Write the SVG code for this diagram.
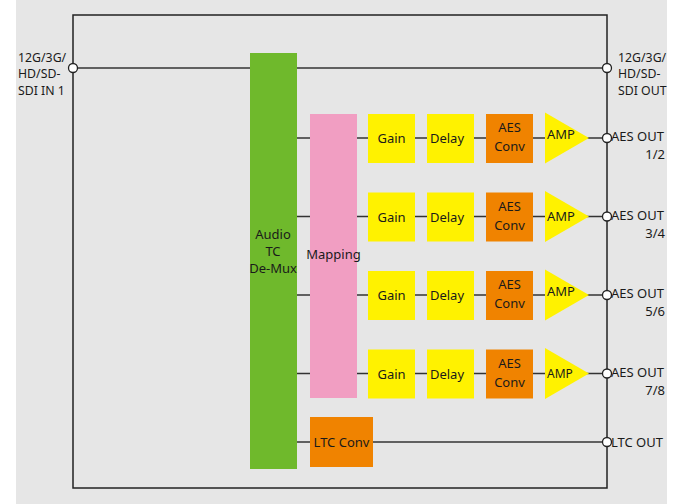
<svg xmlns="http://www.w3.org/2000/svg" width="683" height="504" viewBox="0 0 683 504">
<style>
text{font-family:"Noto Sans","Open Sans","Liberation Sans",sans-serif;font-size:13px;fill:#1a1a1a}
.c{text-anchor:middle}
.e{text-anchor:end}
.s{font-size:12.3px}
.ln{stroke:#333;stroke-width:1.4;fill:none}
.port{fill:#fff;stroke:#222;stroke-width:1.3}
.y{fill:#fff200}
.o{fill:#f08300}
</style>
<rect x="0" y="0" width="683" height="504" fill="#fff"/>
<rect x="16" y="0" width="651" height="504" fill="#e6e6e6"/>
<rect id="frame" x="73" y="15" width="534" height="473" fill="none" stroke="#222" stroke-width="1.5"/>
<g id="connectors">
<line class="ln" x1="73" y1="68" x2="607" y2="68"/>
<line class="ln" x1="297" y1="138" x2="607" y2="138"/>
<line class="ln" x1="297" y1="216.5" x2="607" y2="216.5"/>
<line class="ln" x1="297" y1="295" x2="607" y2="295"/>
<line class="ln" x1="297" y1="373.5" x2="607" y2="373.5"/>
<line class="ln" x1="297" y1="442" x2="607" y2="442"/>
</g>
<g id="demux"><rect x="250" y="53" width="47" height="416" fill="#6fb92c"/>
<text class="c" x="273" y="239">Audio</text><text class="c" x="273" y="256">TC</text><text class="c" x="273" y="273">De-Mux</text></g>
<g id="mapping"><rect x="310" y="114" width="47" height="284" fill="#f19ec2"/><text class="c" x="333.5" y="259">Mapping</text></g>
<g id="row1">
<g id="gain1"><rect class="y" x="368" y="114" width="47" height="49"/><text class="c" x="391.5" y="143">Gain</text></g>
<g id="delay1"><rect class="y" x="427" y="114" width="47" height="49"/><text class="c" x="447" y="143">Delay</text></g>
<g id="aes1"><rect class="o" x="486" y="114" width="47" height="49"/><text class="c" x="509.5" y="132">AES</text><text class="c" x="509.5" y="151">Conv</text></g>
<g id="amp1"><polygon class="y" points="545,112.5 589,138 545,163.5"/><text x="547" y="139">AMP</text></g>
</g>
<g id="row2">
<g id="gain2"><rect class="y" x="368" y="192.5" width="47" height="49"/><text class="c" x="391.5" y="221.5">Gain</text></g>
<g id="delay2"><rect class="y" x="427" y="192.5" width="47" height="49"/><text class="c" x="447" y="221.5">Delay</text></g>
<g id="aes2"><rect class="o" x="486" y="192.5" width="47" height="49"/><text class="c" x="509.5" y="210.5">AES</text><text class="c" x="509.5" y="229.5">Conv</text></g>
<g id="amp2"><polygon class="y" points="545,191 589,216.5 545,242"/><text x="547" y="221">AMP</text></g>
</g>
<g id="row3">
<g id="gain3"><rect class="y" x="368" y="271" width="47" height="49"/><text class="c" x="391.5" y="300">Gain</text></g>
<g id="delay3"><rect class="y" x="427" y="271" width="47" height="49"/><text class="c" x="447" y="300">Delay</text></g>
<g id="aes3"><rect class="o" x="486" y="271" width="47" height="49"/><text class="c" x="509.5" y="289">AES</text><text class="c" x="509.5" y="308">Conv</text></g>
<g id="amp3"><polygon class="y" points="545,269.5 589,295 545,320.5"/><text x="547" y="296">AMP</text></g>
</g>
<g id="row4">
<g id="gain4"><rect class="y" x="368" y="349.5" width="47" height="49"/><text class="c" x="391.5" y="378.5">Gain</text></g>
<g id="delay4"><rect class="y" x="427" y="349.5" width="47" height="49"/><text class="c" x="447" y="378.5">Delay</text></g>
<g id="aes4"><rect class="o" x="486" y="349.5" width="47" height="49"/><text class="c" x="509.5" y="367.5">AES</text><text class="c" x="509.5" y="386.5">Conv</text></g>
<g id="amp4"><polygon class="y" points="545,348 589,373.5 545,399"/><text x="547" y="378" style="font-size:12px">AMP</text></g>
</g>
<g id="ltcconv"><rect class="o" x="310" y="417" width="63" height="50"/><text class="c" x="341.5" y="446.5">LTC Conv</text></g>
<g id="ports">
<circle class="port" cx="73" cy="68" r="4.5"/>
<circle class="port" cx="607" cy="68" r="4.5"/>
<circle class="port" cx="607" cy="138" r="4.5"/>
<circle class="port" cx="607" cy="216.5" r="4.5"/>
<circle class="port" cx="607" cy="295" r="4.5"/>
<circle class="port" cx="607" cy="373.5" r="4.5"/>
<circle class="port" cx="607" cy="442" r="4.5"/>
</g>
<g id="sdi-in"><text class="s" x="18" y="61.5">12G/3G/</text><text class="s" x="18" y="78">HD/SD-</text><text class="s" x="18" y="94.5">SDI IN 1</text></g>
<g id="sdi-out"><text class="s" x="618" y="61.5">12G/3G/</text><text class="s" x="618" y="78">HD/SD-</text><text class="s" x="618" y="94.5">SDI OUT</text></g>
<g id="aes-out-12"><text x="611" y="141">AES OUT</text><text class="e" x="665" y="159">1/2</text></g>
<g id="aes-out-34"><text x="611" y="219.5">AES OUT</text><text class="e" x="665" y="238">3/4</text></g>
<g id="aes-out-56"><text x="611" y="298">AES OUT</text><text class="e" x="665" y="316">5/6</text></g>
<g id="aes-out-78"><text x="611" y="376.5">AES OUT</text><text class="e" x="665" y="394.5">7/8</text></g>
<g id="ltc-out"><text x="611" y="446.5">LTC OUT</text></g>
</svg>
